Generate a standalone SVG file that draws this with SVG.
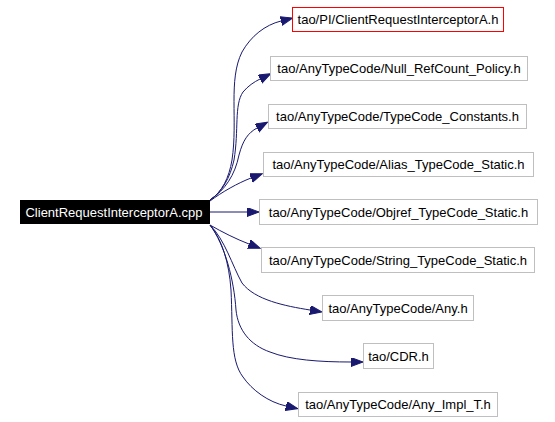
<svg xmlns="http://www.w3.org/2000/svg" width="555" height="422" viewBox="0 0 555 422">
<style>
.n rect{fill:#fff;stroke:#bfbfbf;stroke-width:1}
.n text{font-family:"Liberation Sans",Arial,sans-serif;font-size:13px;fill:#000;text-anchor:middle}
#edges path{fill:none;stroke:#191970;stroke-width:1;marker-end:url(#ah)}
</style>
<defs>
<marker id="ah" markerUnits="userSpaceOnUse" markerWidth="13" markerHeight="10" refX="0" refY="4.5" orient="auto">
<path d="M0,0 L12,4.5 L0,9 z" fill="#191970" stroke="#191970" stroke-width="1"/>
</marker>
</defs>
<rect width="555" height="422" fill="#fff"/>
<g id="edges">
<path d="M210,200 C222,192 229,178 232,160 C238,120 228,80 242,52 C251,36 265,25 281,21"/>
<path d="M210,200 C222,192 230,178 234,160 C239,130 234,105 243,92 C248,86 254,82 260,79"/>
<path d="M210,200 C225,190 235,175 239,155 C243,140 248,133 257,128"/>
<path d="M210,201 C222,192 238,183 251,178"/>
<path d="M210,212 L247,212"/>
<path d="M210,225 C222,232 236,239 249,244"/>
<path d="M210,225 C225,240 232,265 242,283 C255,300 285,306 310,310"/>
<path d="M210,225 C225,245 234,280 236,310 C238,330 250,345 270,352 C290,360 320,362 351,362"/>
<path d="M210,225 C222,240 229,262 231,290 C233,330 230,360 243,377 C252,390 268,402 286,406"/>
</g>
<g id="src"><rect x="20" y="200" width="190" height="24" fill="#000"/><text x="114" y="217" style="font-family:'Liberation Sans',Arial,sans-serif;font-size:13px;fill:#fff;text-anchor:middle">ClientRequestInterceptorA.cpp</text></g>
<g id="n1" class="n"><rect x="292.5" y="7.5" width="211" height="24" style="stroke:#ff0000"/><text x="398" y="24">tao/PI/ClientRequestInterceptorA.h</text></g>
<g id="n2" class="n"><rect x="270.5" y="56.5" width="257" height="24"/><text x="399" y="73">tao/AnyTypeCode/Null_RefCount_Policy.h</text></g>
<g id="n3" class="n"><rect x="268.5" y="104.5" width="258" height="24"/><text x="397.5" y="121">tao/AnyTypeCode/TypeCode_Constants.h</text></g>
<g id="n4" class="n"><rect x="263.5" y="152.5" width="270" height="24"/><text x="398.5" y="169">tao/AnyTypeCode/Alias_TypeCode_Static.h</text></g>
<g id="n5" class="n"><rect x="259.5" y="199.5" width="278" height="25"/><text x="398.5" y="217">tao/AnyTypeCode/Objref_TypeCode_Static.h</text></g>
<g id="n6" class="n"><rect x="261.5" y="247.5" width="273" height="25"/><text x="398" y="265">tao/AnyTypeCode/String_TypeCode_Static.h</text></g>
<g id="n7" class="n"><rect x="322.5" y="295.5" width="151" height="25"/><text x="398" y="313">tao/AnyTypeCode/Any.h</text></g>
<g id="n8" class="n"><rect x="363.5" y="343.5" width="70" height="25"/><text x="398.5" y="361">tao/CDR.h</text></g>
<g id="n9" class="n"><rect x="298.5" y="392.5" width="199" height="24"/><text x="398" y="409">tao/AnyTypeCode/Any_Impl_T.h</text></g>
</svg>
